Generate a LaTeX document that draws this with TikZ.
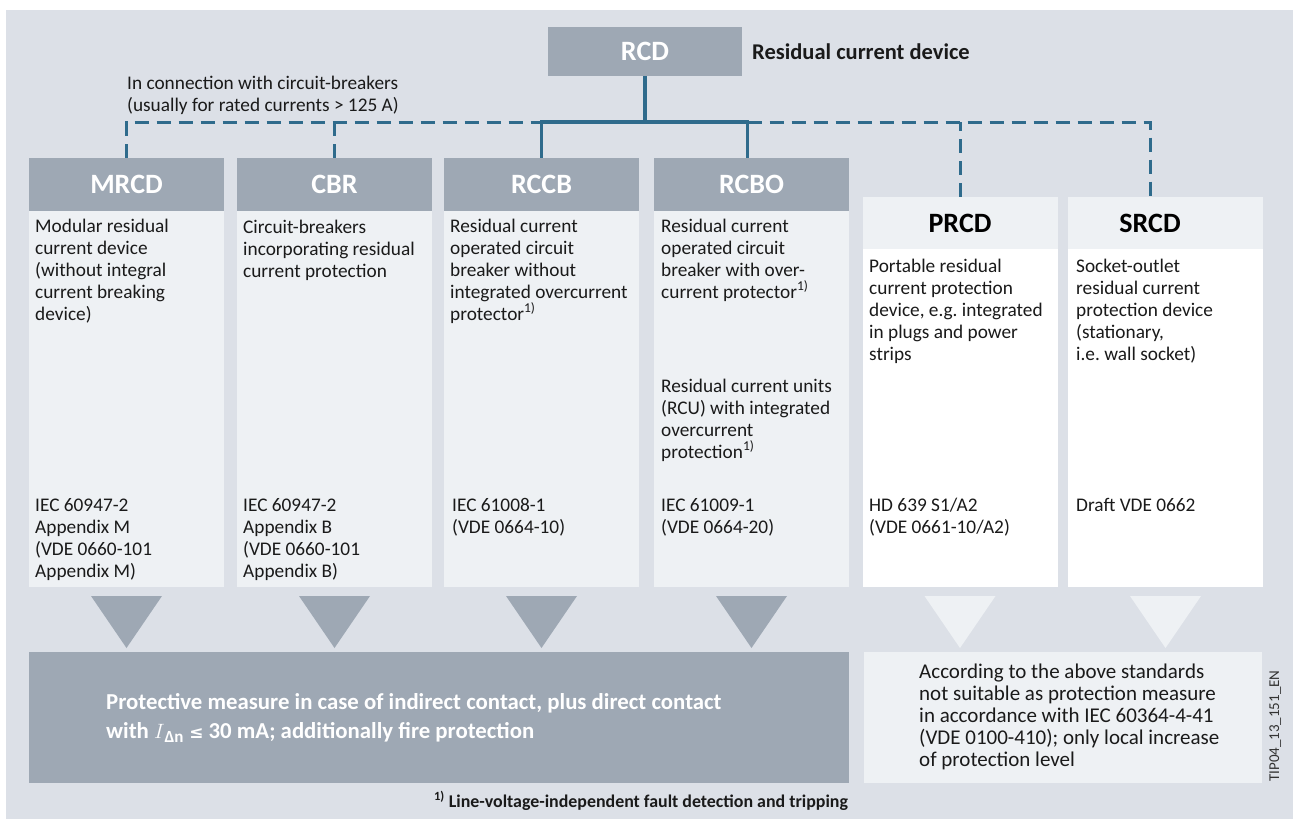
\documentclass[tikz,border=0pt]{standalone}
\usepackage{fontspec}
\setmainfont{Carlito}
\newfontfamily\djv{DejaVu Sans}
\definecolor{bgc}{HTML}{DCE0E7}
\definecolor{hdrgray}{HTML}{9EA8B4}
\definecolor{panel}{HTML}{EEF1F4}
\definecolor{lineblue}{HTML}{2F6B8C}
\definecolor{txtc}{HTML}{1A1A1A}
\begin{document}
\begin{tikzpicture}[x=1pt,y=-1pt,
  hdr/.style={fill=hdrgray, text=white, font=\fontsize{28}{30}\selectfont\bfseries, minimum width=195, minimum height=53, inner sep=0},
  lhdr/.style={fill=panel, text=black, font=\fontsize{28}{30}\selectfont\bfseries, minimum width=195, minimum height=52, inner sep=0},
  body/.style={fill=panel, minimum width=195, minimum height=376, inner sep=0},
  wbody/.style={fill=white, minimum width=195, minimum height=338, inner sep=0},
  txt/.style={anchor=north west, inner sep=0, align=left, text=txtc, font=\fontsize{19.3}{22}\selectfont},
  bus/.style={draw=lineblue, line width=3.5},
  dbus/.style={draw=lineblue, line width=3, dash pattern=on 14pt off 8pt},
  tri/.style={fill=hdrgray},
  ltri/.style={fill=panel}]
\useasboundingbox (0,0) rectangle (1293,819);
\fill[bgc] (6,10) rectangle (1293,819);

% top node
\node[hdr, minimum width=194, minimum height=49] (rcd) at (645,51.5) {RCD};
\node[anchor=base west, inner sep=0, text=txtc, font=\fontsize{22.5}{24}\selectfont\bfseries] (rcdlbl) at (752,59) {Residual current device};
\node[txt] (cbnote) at (127,73.6) {\strut In connection with circuit-breakers\\(usually for rated currents > 125 A)};

% headers
\node[hdr] (mrcd) at (126.5,184.5) {MRCD};
\node[hdr] (cbr) at (334.5,184.5) {CBR};
\node[hdr] (rccb) at (541.5,184.5) {RCCB};
\node[hdr] (rcbo) at (751.5,184.5) {RCBO};
\node[lhdr] (prcd) at (960,223) {PRCD};
\node[lhdr] (srcd) at (1165.5,223) {\hspace*{-31pt}SRCD};

% bodies
\node[body] (mrcdb) at (126.5,399) {};
\node[body] (cbrb) at (334.5,399) {};
\node[body] (rccbb) at (541.5,399) {};
\node[body] (rcbob) at (751.5,399) {};
\node[wbody] (prcdb) at (960,418) {};
\node[wbody] (srcdb) at (1165.5,418) {};

% connectors
\coordinate (busL) at (541.5,122);
\coordinate (busR) at (747.5,122);
\coordinate (busE) at (1150,122);
\draw[dbus] (mrcd.north) |- (busL);
\draw[dbus] (cbr.north) -- (cbr.north |- busL);
\draw[dbus] (busR) -- (busE) -- (busE |- srcd.north);
\draw[dbus] (prcd.north) -- (prcd.north |- busR);
\draw[bus] (rcd.south) -- (rcd.south |- busL);
\draw[bus, line join=miter] (rccb.north) |- (busR) -- (busR |- rcbo.north);

% body texts
\node[txt] (mrcdt) at (35,216.6) {\strut Modular residual\\current device\\(without integral\\current breaking\\device)};
\node[txt] (cbrt) at (243,218) {\strut Circuit-breakers\\incorporating residual\\current protection};
\node[txt] (rccbt) at (450,216.6) {\strut Residual current\\operated circuit\\breaker without\\integrated overcurrent\\protector\textsuperscript{1)}};
\node[txt] (rcbot) at (661,216.6) {\strut Residual current\\operated circuit\\breaker with over-\\current protector\textsuperscript{1)}};
\node[txt] (rcut) at (661,376.6) {\strut Residual current units\\(RCU) with integrated\\overcurrent\\protection\textsuperscript{1)}};
\node[txt] (prcdt) at (869,256.6) {\strut Portable residual\\current protection\\device, e.g.\ integrated\\in plugs and power\\strips};
\node[txt] (srcdt) at (1076,256.6) {\strut Socket-outlet\\residual current\\protection device\\(stationary,\\i.e.\ wall socket)};

% standards
\node[txt] (mrcds) at (35,495.6) {\strut IEC 60947-2\\Appendix M\\(VDE 0660-101\\Appendix M)};
\node[txt] (cbrs) at (243,495.6) {\strut IEC 60947-2\\Appendix B\\(VDE 0660-101\\Appendix B)};
\node[txt] (rccbs) at (452,495.6) {\strut IEC 61008-1\\(VDE 0664-10)};
\node[txt] (rcbos) at (661,495.6) {\strut IEC 61009-1\\(VDE 0664-20)};
\node[txt] (prcds) at (869,495.6) {\strut HD 639 S1/A2\\(VDE 0661-10/A2)};
\node[txt] (srcds) at (1076,495.6) {\strut Draft VDE 0662};

% triangles
\foreach \cx in {126.5,334.5,541.5,751.5}
  \fill[tri] (\cx-35.5,596) -- (\cx+35.5,596) -- (\cx,648) -- cycle;
\foreach \cx in {960,1165.5}
  \fill[ltri] (\cx-35.5,596) -- (\cx+35.5,596) -- (\cx,648) -- cycle;

% bottom boxes
\node[fill=hdrgray, minimum width=820, minimum height=131, inner sep=0] (prot) at (439,717.5) {};
\node[fill=panel, minimum width=398, minimum height=131, inner sep=0] (notsuit) at (1063,717.5) {};
\node[txt, text=white, font=\fontsize{22.8}{29}\selectfont\bfseries] (prott) at (106,688.7) {\strut Protective measure in case of indirect contact, plus direct contact\\with $I$\textsubscript{\fontsize{17}{17}\selectfont Δn} {\fontsize{17}{17}\selectfont\djv ≤} 30 mA; additionally fire protection};
\node[txt, font=\fontsize{21}{22}\selectfont] (notsuitt) at (919,662.6) {\strut According to the above standards\\not suitable as protection measure\\in accordance with IEC 60364-4-41\\(VDE 0100-410); only local increase\\of protection level};

% footnote and id
\node[anchor=base, inner sep=0, text=txtc, font=\fontsize{17.9}{19}\selectfont\bfseries] (fn) at (641,807) {\textsuperscript{1)} Line-voltage-independent fault detection and tripping};
\node[anchor=base west, rotate=90, inner sep=0, text=black!80, font=\fontsize{15}{17}\selectfont] (tip) at (1279,782) {TIP04\_13\_151\_EN};
\end{tikzpicture}
\end{document}
